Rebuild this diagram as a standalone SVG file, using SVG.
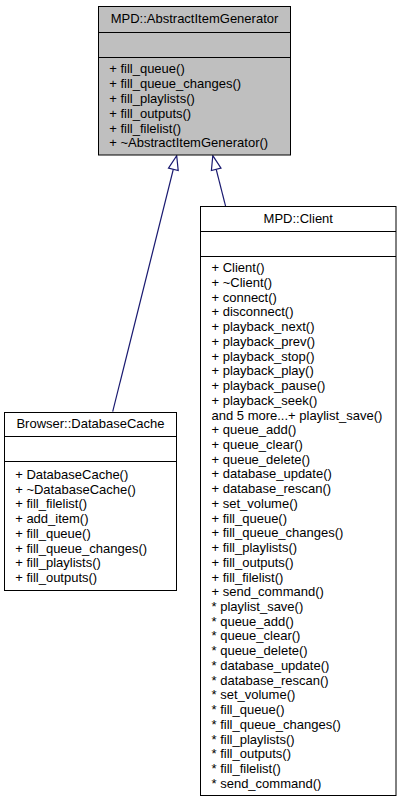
<svg xmlns="http://www.w3.org/2000/svg" width="401" height="803" viewBox="0 0 401 803">
<style>
  .box { fill: #ffffff; stroke: #000000; stroke-width: 1; }
  .cur { fill: #bfbfbf; stroke: #000000; stroke-width: 1; }
  .sep { stroke: #000000; stroke-width: 1; fill: none; }
  .t { font-family: "Liberation Sans", Arial, Helvetica, sans-serif; font-size: 13px; fill: #000000; }
  .c { text-anchor: middle; }
  .edge { stroke: #191970; stroke-width: 1.2; fill: none; }
  .head { stroke: #191970; stroke-width: 1.2; fill: #ffffff; }
</style>
<rect width="401" height="803" fill="#ffffff"/>
<g id="connectors">
  <path class="edge" d="M112.7,411.7 L173.3,169.3"/>
  <polygon class="head" points="176.7,155.7 178.2,170.5 168.5,168.1"/>
  <path class="edge" d="M225.7,206.7 L216.2,169.3"/>
  <polygon class="head" points="212.8,155.7 221.0,168.1 211.4,170.5"/>
</g>
<g id="node-AbstractItemGenerator">
  <rect class="cur" x="98.5" y="6.5" width="192" height="148.5"/>
  <line class="sep" x1="98.5" y1="32.5" x2="290.5" y2="32.5"/>
  <line class="sep" x1="98.5" y1="57.5" x2="290.5" y2="57.5"/>
  <text class="t c" x="194.5" y="22.5">MPD::AbstractItemGenerator</text>
  <text class="t" x="109.2" y="73.3">+ fill_queue()<tspan x="109.2" dy="14.8">+ fill_queue_changes()</tspan><tspan x="109.2" dy="14.8">+ fill_playlists()</tspan><tspan x="109.2" dy="14.8">+ fill_outputs()</tspan><tspan x="109.2" dy="14.8">+ fill_filelist()</tspan><tspan x="109.2" dy="14.8">+ ~AbstractItemGenerator()</tspan></text>
</g>
<g id="node-DatabaseCache">
  <rect class="box" x="4.5" y="412.5" width="172" height="178"/>
  <line class="sep" x1="4.5" y1="436.5" x2="176.5" y2="436.5"/>
  <line class="sep" x1="4.5" y1="461.5" x2="176.5" y2="461.5"/>
  <text class="t c" x="90.5" y="428">Browser::DatabaseCache</text>
  <text class="t" x="15.2" y="479">+ DatabaseCache()<tspan x="15.2" dy="14.7">+ ~DatabaseCache()</tspan><tspan x="15.2" dy="14.7">+ fill_filelist()</tspan><tspan x="15.2" dy="14.7">+ add_item()</tspan><tspan x="15.2" dy="14.7">+ fill_queue()</tspan><tspan x="15.2" dy="14.7">+ fill_queue_changes()</tspan><tspan x="15.2" dy="14.7">+ fill_playlists()</tspan><tspan x="15.2" dy="14.7">+ fill_outputs()</tspan></text>
</g>
<g id="node-Client">
  <rect class="box" x="200.5" y="206.5" width="195.5" height="589"/>
  <line class="sep" x1="200.5" y1="231.5" x2="396" y2="231.5"/>
  <line class="sep" x1="200.5" y1="256.5" x2="396" y2="256.5"/>
  <text class="t c" x="298.3" y="222.7">MPD::Client</text>
  <text class="t" x="211.5" y="272.2">+ Client()<tspan x="211.5" dy="14.73">+ ~Client()</tspan><tspan x="211.5" dy="14.73">+ connect()</tspan><tspan x="211.5" dy="14.73">+ disconnect()</tspan><tspan x="211.5" dy="14.73">+ playback_next()</tspan><tspan x="211.5" dy="14.73">+ playback_prev()</tspan><tspan x="211.5" dy="14.73">+ playback_stop()</tspan><tspan x="211.5" dy="14.73">+ playback_play()</tspan><tspan x="211.5" dy="14.73">+ playback_pause()</tspan><tspan x="211.5" dy="14.73">+ playback_seek()</tspan><tspan x="211.5" dy="14.73">and 5 more...+ playlist_save()</tspan><tspan x="211.5" dy="14.73">+ queue_add()</tspan><tspan x="211.5" dy="14.73">+ queue_clear()</tspan><tspan x="211.5" dy="14.73">+ queue_delete()</tspan><tspan x="211.5" dy="14.73">+ database_update()</tspan><tspan x="211.5" dy="14.73">+ database_rescan()</tspan><tspan x="211.5" dy="14.73">+ set_volume()</tspan><tspan x="211.5" dy="14.73">+ fill_queue()</tspan><tspan x="211.5" dy="14.73">+ fill_queue_changes()</tspan><tspan x="211.5" dy="14.73">+ fill_playlists()</tspan><tspan x="211.5" dy="14.73">+ fill_outputs()</tspan><tspan x="211.5" dy="14.73">+ fill_filelist()</tspan><tspan x="211.5" dy="14.73">+ send_command()</tspan><tspan x="211.5" dy="14.73">* playlist_save()</tspan><tspan x="211.5" dy="14.73">* queue_add()</tspan><tspan x="211.5" dy="14.73">* queue_clear()</tspan><tspan x="211.5" dy="14.73">* queue_delete()</tspan><tspan x="211.5" dy="14.73">* database_update()</tspan><tspan x="211.5" dy="14.73">* database_rescan()</tspan><tspan x="211.5" dy="14.73">* set_volume()</tspan><tspan x="211.5" dy="14.73">* fill_queue()</tspan><tspan x="211.5" dy="14.73">* fill_queue_changes()</tspan><tspan x="211.5" dy="14.73">* fill_playlists()</tspan><tspan x="211.5" dy="14.73">* fill_outputs()</tspan><tspan x="211.5" dy="14.73">* fill_filelist()</tspan><tspan x="211.5" dy="14.73">* send_command()</tspan></text>
</g>
</svg>
